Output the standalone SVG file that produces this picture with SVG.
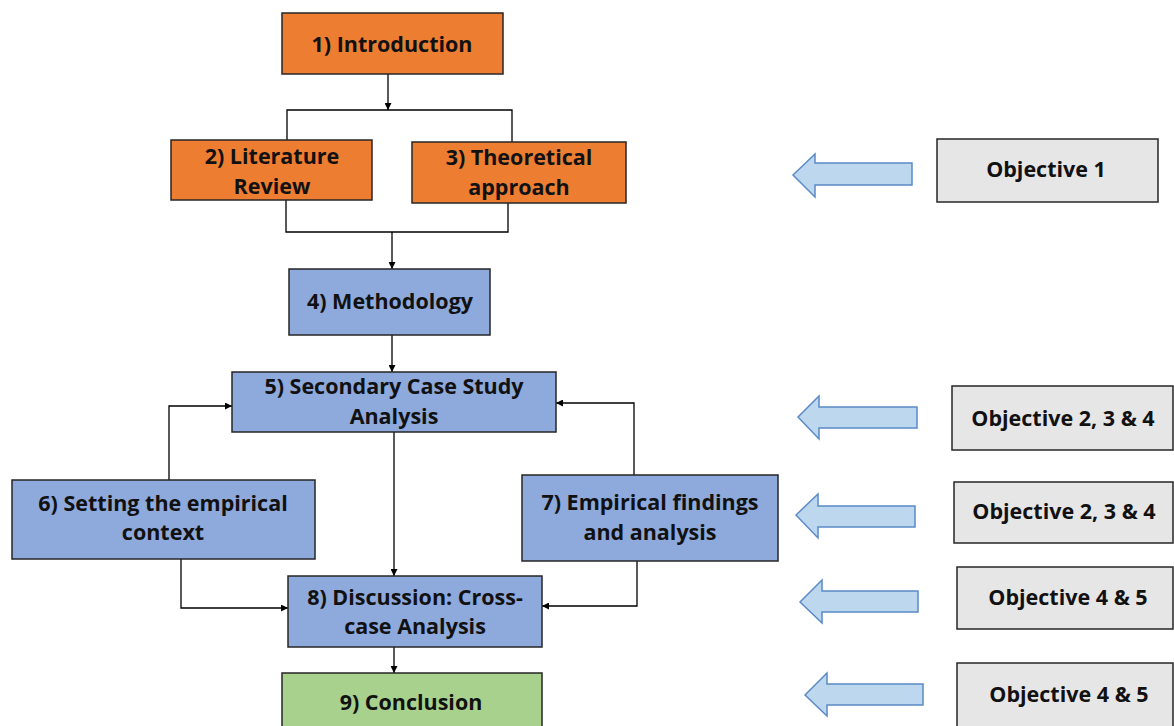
<svg xmlns="http://www.w3.org/2000/svg" width="1174" height="726" viewBox="0 0 1174 726">
  <defs>
    <marker id="tip" viewBox="0 0 10 10" refX="10" refY="5" markerWidth="7" markerHeight="7" markerUnits="userSpaceOnUse" orient="auto">
      <path d="M0,0 L10,5 L0,10 z" fill="#000"/>
    </marker>
    <style>
      .box { stroke: #262626; stroke-width: 1.5; }
      .orange { fill: #ED7D31; }
      .blue { fill: #8EA9DB; }
      .green { fill: #A9D18E; }
      .grey { fill: #E7E6E6; }
      .bigarrow { fill: #BDD7EE; stroke: #5B8BC6; stroke-width: 1.5; stroke-linejoin: miter; }
      .lbl { font-family: "Open Sans", Lato, "Liberation Sans", sans-serif; font-weight: bold; font-size: 21.5px; fill: #111; text-anchor: middle; }
      .link { fill: none; stroke: #000; stroke-width: 1.3; }
    </style>
  </defs>
  <rect width="1174" height="726" fill="#fff"/>

  <!-- connectors -->
  <g id="connectors">
    <path class="link" d="M388,74 V110" marker-end="url(#tip)"/>
    <path class="link" d="M287,140 V110 H512 V142"/>
    <path class="link" d="M286,200 V232 H508 V203"/>
    <path class="link" d="M392,232 V269" marker-end="url(#tip)"/>
    <path class="link" d="M392,335 V372" marker-end="url(#tip)"/>
    <path class="link" d="M169,480 V406 H232" marker-end="url(#tip)"/>
    <path class="link" d="M634,475 V403 H556" marker-end="url(#tip)"/>
    <path class="link" d="M394,432 V576" marker-end="url(#tip)"/>
    <path class="link" d="M181,559 V608 H288" marker-end="url(#tip)"/>
    <path class="link" d="M637,561 V606 H542" marker-end="url(#tip)"/>
    <path class="link" d="M394,647 V673" marker-end="url(#tip)"/>
  </g>

  <!-- chapter nodes -->
  <g id="n1">
    <rect class="box orange" x="282" y="13" width="221" height="61"/>
    <text class="lbl" x="392" y="52">1) Introduction</text>
  </g>
  <g id="n2">
    <rect class="box orange" x="171" y="140" width="201" height="60"/>
    <text class="lbl" x="272" y="164">2) Literature</text>
    <text class="lbl" x="272" y="194">Review</text>
  </g>
  <g id="n3">
    <rect class="box orange" x="412" y="142" width="214" height="61"/>
    <text class="lbl" x="519" y="165">3) Theoretical</text>
    <text class="lbl" x="519" y="195">approach</text>
  </g>
  <g id="n4">
    <rect class="box blue" x="289" y="269" width="201" height="66"/>
    <text class="lbl" x="390" y="309">4) Methodology</text>
  </g>
  <g id="n5">
    <rect class="box blue" x="232" y="372" width="324" height="60"/>
    <text class="lbl" x="394" y="394">5) Secondary Case Study</text>
    <text class="lbl" x="394" y="424">Analysis</text>
  </g>
  <g id="n6">
    <rect class="box blue" x="12" y="480" width="303" height="79"/>
    <text class="lbl" x="163" y="511">6) Setting the empirical</text>
    <text class="lbl" x="163" y="540">context</text>
  </g>
  <g id="n7">
    <rect class="box blue" x="522" y="475" width="256" height="86"/>
    <text class="lbl" x="650" y="510">7) Empirical findings</text>
    <text class="lbl" x="650" y="540">and analysis</text>
  </g>
  <g id="n8">
    <rect class="box blue" x="288" y="576" width="254" height="71"/>
    <text class="lbl" x="415" y="605">8) Discussion: Cross-</text>
    <text class="lbl" x="415" y="634">case Analysis</text>
  </g>
  <g id="n9">
    <rect class="box green" x="282" y="673" width="260" height="60"/>
    <text class="lbl" x="411" y="710">9) Conclusion</text>
  </g>

  <!-- objectives with block arrows -->
  <g id="obj1">
    <path class="bigarrow" d="M793,175 L815,154 V163 H912 V185 H815 V197 Z"/>
    <rect class="box grey" x="937" y="139" width="221" height="63"/>
    <text class="lbl" x="1046" y="177">Objective 1</text>
  </g>
  <g id="obj2">
    <path class="bigarrow" d="M798,417 L819,396 V407 H917 V428 H819 V439 Z"/>
    <rect class="box grey" x="952" y="386" width="221" height="64"/>
    <text class="lbl" x="1063" y="426">Objective 2, 3 &amp; 4</text>
  </g>
  <g id="obj3">
    <path class="bigarrow" d="M796,515 L818,494 V506 H915 V527 H818 V538 Z"/>
    <rect class="box grey" x="954" y="482" width="219" height="61"/>
    <text class="lbl" x="1064" y="519">Objective 2, 3 &amp; 4</text>
  </g>
  <g id="obj4">
    <path class="bigarrow" d="M800,602 L822,580 V591 H918 V612 H822 V623 Z"/>
    <rect class="box grey" x="957" y="567" width="216" height="62"/>
    <text class="lbl" x="1068" y="605">Objective 4 &amp; 5</text>
  </g>
  <g id="obj5">
    <path class="bigarrow" d="M805,695 L827,673 V684 H923 V705 H827 V716 Z"/>
    <rect class="box grey" x="957" y="663" width="216" height="70"/>
    <text class="lbl" x="1069" y="702">Objective 4 &amp; 5</text>
  </g>
</svg>
